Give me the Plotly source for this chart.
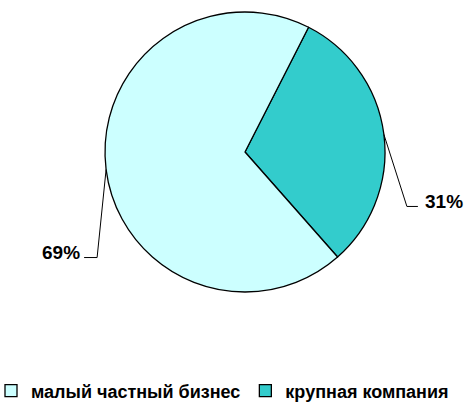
import math
import plotly.graph_objects as go

labels = ["крупная компания", "малый частный бизнес"]
values = [31, 69]
colors = ["#33CCCC", "#CCFFFF"]

W, H = 469, 405
cx, cy, R = 245, 152, 140
rotation = 27

def px(x):
    return x / W

def py(y):
    return 1 - y / H

fig = go.Figure()
fig.add_trace(go.Pie(
    labels=labels, values=values, sort=False, direction="clockwise",
    rotation=rotation,
    marker=dict(colors=colors, line=dict(color="black", width=1.3)),
    textinfo="none", hoverinfo="label+percent",
    domain=dict(x=[px(cx - R), px(cx + R)], y=[py(cy + R), py(cy - R)]),
    showlegend=True,
))

# leader lines and labels, computed from slice midpoints
total = sum(values)
ang = rotation
label_cfg = {
    "крупная компания": dict(dx=23, dy=72, hx=11, side=1, gap=5),
    "малый частный бизнес": dict(dx=-9, dy=88, hx=-13, side=-1, gap=2),
}
for lab, v in zip(labels, values):
    mid = ang + 360 * v / total / 2
    ang += 360 * v / total
    a = math.radians(mid)
    x0 = cx + R * math.sin(a)
    y0 = cy - R * math.cos(a)
    c = label_cfg[lab]
    x1, y1 = x0 + c["dx"], y0 + c["dy"]
    x2 = x1 + c["hx"]
    fig.add_shape(type="path", xref="paper", yref="paper",
                  path=f"M {px(x0)},{py(y0)} L {px(x1)},{py(y1)} L {px(x2)},{py(y1)}",
                  line=dict(color="black", width=1))
    fig.add_annotation(xref="paper", yref="paper", x=px(x2 + c["side"] * c["gap"]), y=py(y1 - 5),
                       text=f"{round(100 * v / total)}%", showarrow=False,
                       xanchor="left" if c["side"] > 0 else "right", yanchor="middle",
                       font=dict(family="Liberation Sans, Arial", size=19, color="black", weight="bold"))

fig.update_layout(
    width=W, height=H,
    margin=dict(l=0, r=0, t=0, b=0, autoexpand=False),
    paper_bgcolor="white", plot_bgcolor="white",
    legend=dict(orientation="h", x=px(-9), xanchor="left", y=-0.011, yanchor="bottom",
                font=dict(family="Liberation Sans, Arial", size=18, color="black", weight="bold"),
                traceorder="reversed", itemwidth=30),
    showlegend=True,
)
fig.write_html("out.html", config={"displayModeBar": False},
               post_script="document.body.style.margin='0';")
